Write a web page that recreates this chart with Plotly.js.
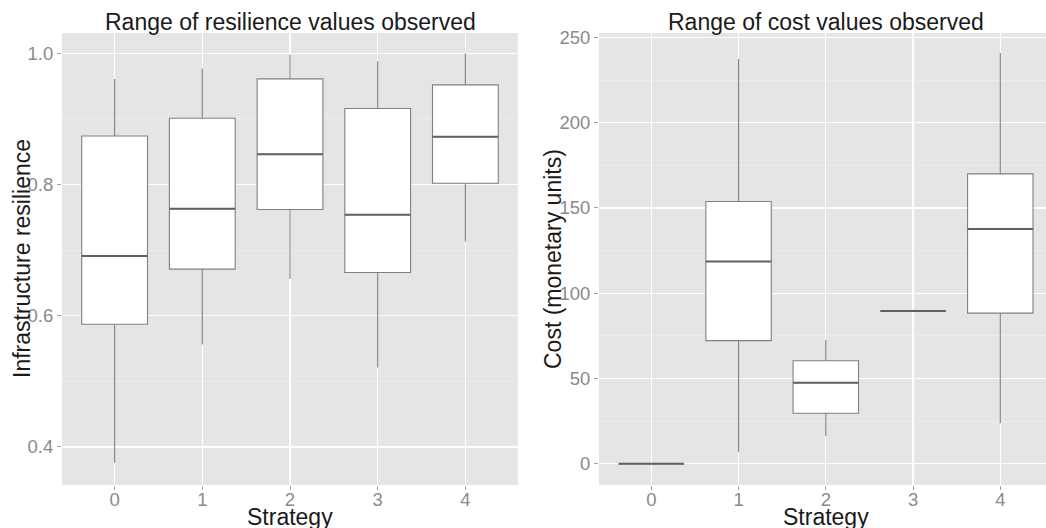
<!DOCTYPE html>
<html>
<head>
<meta charset="utf-8">
<script src="https://cdn.plot.ly/plotly-3.0.1.min.js"></script>
<style>html,body{margin:0;padding:0;background:#fff;}#chart{width:1046px;height:528px;}</style>
</head>
<body>
<div id="chart"></div>
<script>
// Strategy categories
const strategies = [0, 1, 2, 3, 4];
const tickLabels = ["0", "1", "2", "3", "4"];

// Resilience box statistics
const resLow    = [0.376, 0.556, 0.656, 0.521, 0.713];
const resQ1     = [0.587, 0.671, 0.762, 0.666, 0.802];
const resMedian = [0.691, 0.763, 0.846, 0.754, 0.873];
const resQ3     = [0.874, 0.901, 0.961, 0.916, 0.952];
const resHigh   = [0.961, 0.977, 0.998, 0.988, 1.000];

// Cost box statistics
const costLow    = [0, 7.0, 16.3, 89.6, 23.7];
const costQ1     = [0, 72.2, 29.6, 89.6, 88.3];
const costMedian = [0, 118.6, 47.5, 89.6, 137.7];
const costQ3     = [0, 153.8, 60.4, 89.6, 170.0];
const costHigh   = [0, 237.3, 72.6, 89.6, 240.8];

const boxStyle = {
  type: 'box', x: strategies, width: 0.75, whiskerwidth: 0,
  fillcolor: '#ffffff', line: {color: '#808080', width: 1.1},
  boxpoints: false, showlegend: false, hoverinfo: 'skip'
};
const medStyle = {
  type: 'box', x: strategies, width: 0.75, whiskerwidth: 0,
  fillcolor: 'rgba(0,0,0,0)', line: {color: '#606060', width: 2},
  boxpoints: false, showlegend: false, hoverinfo: 'skip'
};

const traces = [
  Object.assign({}, boxStyle, {q1: resQ1, median: resMedian, q3: resQ3, lowerfence: resLow, upperfence: resHigh, xaxis: 'x', yaxis: 'y'}),
  Object.assign({}, medStyle, {q1: resMedian, median: resMedian, q3: resMedian, lowerfence: resMedian, upperfence: resMedian, xaxis: 'x', yaxis: 'y'}),
  Object.assign({}, boxStyle, {q1: costQ1, median: costMedian, q3: costQ3, lowerfence: costLow, upperfence: costHigh, xaxis: 'x2', yaxis: 'y2'}),
  Object.assign({}, medStyle, {q1: costMedian, median: costMedian, q3: costMedian, lowerfence: costMedian, upperfence: costMedian, xaxis: 'x2', yaxis: 'y2'})
];

const W = 1046, H = 528;
const font = 'Liberation Sans, Arial, sans-serif';
const tickFont = {family: font, size: 18.5, color: '#8a8a8a'};

function xAx(dom, rng) {
  return {
    domain: dom, range: rng, tickvals: strategies, ticktext: tickLabels,
    showgrid: true, gridcolor: '#ffffff', gridwidth: 1.2, zeroline: false,
    ticks: 'outside', ticklen: 4, tickcolor: '#a0a0a0', tickwidth: 1,
    ticklabelstandoff: -6,
    tickfont: tickFont, showline: false, fixedrange: true
  };
}
function yAx(dom, rng, anchor, dtick, mdtick) {
  return {
    domain: dom, range: rng, anchor: anchor, dtick: dtick, tick0: 0,
    showgrid: true, gridcolor: '#ffffff', gridwidth: 1.2, zeroline: false,
    minor: {dtick: mdtick, showgrid: true, gridcolor: '#f0f0f0', gridwidth: 0.6, ticks: ''},
    ticks: 'outside', ticklen: 4, tickcolor: '#a0a0a0', tickwidth: 1,
    tickfont: tickFont, showline: false, fixedrange: true,
    tickformat: dtick < 1 ? '.1f' : 'd'
  };
}

const yDom = [1 - 485 / H, 1 - 33 / H];
const layout = {
  width: W, height: H,
  margin: {l: 0, r: 0, t: 0, b: 0, pad: 0},
  paper_bgcolor: '#ffffff', plot_bgcolor: '#e5e5e5',
  showlegend: false,
  xaxis: xAx([62 / W, 518 / W], [-0.6, 4.6]),
  yaxis: yAx(yDom, [0.342, 1.031], 'x', 0.2, 0.1),
  xaxis2: Object.assign(xAx([599 / W, 1], [-0.6, 4.524]), {anchor: 'y2'}),
  yaxis2: yAx(yDom, [-12.5, 252.6], 'x2', 50, 25),
  annotations: [
    {text: 'Range of resilience values observed', x: 290 / W, y: 1 - 37 / H, xref: 'paper', yref: 'paper', xanchor: 'center', yanchor: 'bottom', showarrow: false, font: {family: font, size: 23, color: '#1a1a1a'}},
    {text: 'Range of cost values observed', x: 826 / W, y: 1 - 37 / H, xref: 'paper', yref: 'paper', xanchor: 'center', yanchor: 'bottom', showarrow: false, font: {family: font, size: 23, color: '#1a1a1a'}},
    {text: 'Strategy', x: 290 / W, y: 1 - 502 / H, xref: 'paper', yref: 'paper', xanchor: 'center', yanchor: 'top', showarrow: false, font: {family: font, size: 23, color: '#1a1a1a'}},
    {text: 'Strategy', x: 826 / W, y: 1 - 502 / H, xref: 'paper', yref: 'paper', xanchor: 'center', yanchor: 'top', showarrow: false, font: {family: font, size: 23, color: '#1a1a1a'}},
    {text: 'Infrastructure resilience', x: 22 / W, y: 1 - 259 / H, xref: 'paper', yref: 'paper', xanchor: 'center', yanchor: 'middle', textangle: -90, showarrow: false, font: {family: font, size: 23, color: '#1a1a1a'}},
    {text: 'Cost (monetary units)', x: 553 / W, y: 1 - 259 / H, xref: 'paper', yref: 'paper', xanchor: 'center', yanchor: 'middle', textangle: -90, showarrow: false, font: {family: font, size: 23, color: '#1a1a1a'}}
  ]
};

Plotly.newPlot('chart', traces, layout, {displayModeBar: false, staticPlot: true});
</script>
</body>
</html>
